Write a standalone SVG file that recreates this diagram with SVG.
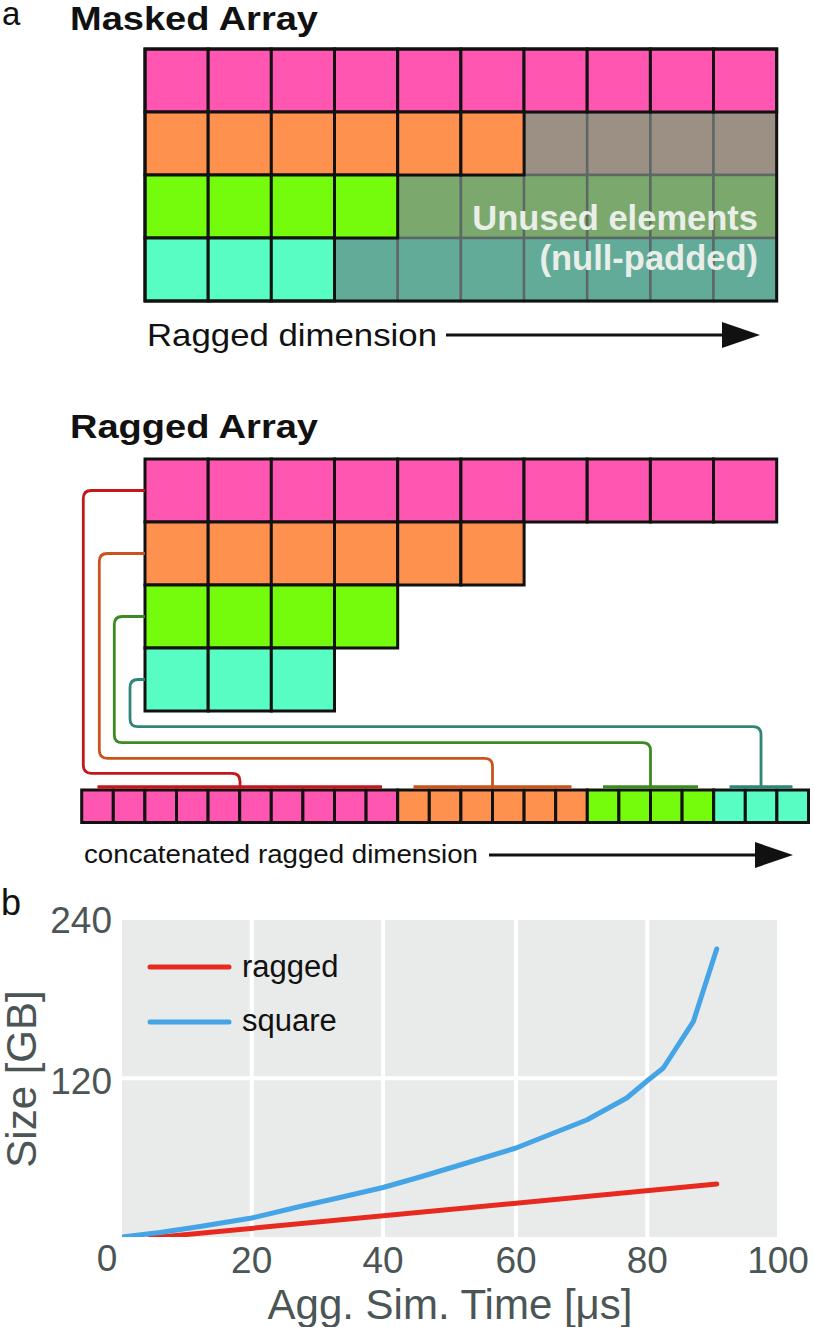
<svg xmlns="http://www.w3.org/2000/svg" width="814" height="1327" viewBox="0 0 814 1327">
<style>
.lbl{font-family:"Liberation Sans",Arial,sans-serif;fill:#111}
.title{font-family:"Liberation Sans",Arial,sans-serif;font-weight:bold;font-size:34px;fill:#111}
.pk{fill:#ff56b1;stroke:#111;stroke-width:3}
.or{fill:#ff914f;stroke:#111;stroke-width:3}
.gr{fill:#74fc0c;stroke:#111;stroke-width:3}
.te{fill:#58fdc4;stroke:#111;stroke-width:3}
.uo{fill:#9c8f84;stroke:#5d6866;stroke-width:2.5}
.ug{fill:#7ba86c;stroke:#5d6866;stroke-width:2.5}
.ut{fill:#63ab99;stroke:#5d6866;stroke-width:2.5}
.conn{fill:none;stroke-width:2.8;stroke-linejoin:round}
.brk{stroke-width:3.5}
.tick{font-family:"Liberation Sans",Arial,sans-serif;font-size:37px;fill:#4b5555}
.axl{font-family:"Liberation Sans",Arial,sans-serif;font-size:42px;fill:#4b5555}
.grid{stroke:#ffffff;stroke-width:4}
</style>
<defs>
<marker id="ah" markerUnits="userSpaceOnUse" markerWidth="38" markerHeight="26" refX="0" refY="13" orient="auto" viewBox="0 0 38 26">
<path d="M0,0 L38,13 L0,26 Z" fill="#111"/>
</marker>
<clipPath id="plotclip"><rect x="122" y="920" width="655" height="317"/></clipPath>
</defs>

<g id="panel-a-label"><text class="lbl" x="2" y="25" font-size="33">a</text></g>
<g id="masked-title"><text class="title" x="70" y="30" textLength="248" lengthAdjust="spacingAndGlyphs">Masked Array</text></g>

<g id="masked-array">
<rect class="uo" x="524" y="112" width="63.2" height="63"/>
<rect class="uo" x="587.2" y="112" width="63.2" height="63"/>
<rect class="uo" x="650.4" y="112" width="63.2" height="63"/>
<rect class="uo" x="713.5" y="112" width="63.2" height="63"/>
<rect class="ug" x="397.7" y="175" width="63.2" height="63"/>
<rect class="ug" x="460.9" y="175" width="63.2" height="63"/>
<rect class="ug" x="524" y="175" width="63.2" height="63"/>
<rect class="ug" x="587.2" y="175" width="63.2" height="63"/>
<rect class="ug" x="650.4" y="175" width="63.2" height="63"/>
<rect class="ug" x="713.5" y="175" width="63.2" height="63"/>
<rect class="ut" x="334.5" y="238" width="63.2" height="63"/>
<rect class="ut" x="397.7" y="238" width="63.2" height="63"/>
<rect class="ut" x="460.9" y="238" width="63.2" height="63"/>
<rect class="ut" x="524" y="238" width="63.2" height="63"/>
<rect class="ut" x="587.2" y="238" width="63.2" height="63"/>
<rect class="ut" x="650.4" y="238" width="63.2" height="63"/>
<rect class="ut" x="713.5" y="238" width="63.2" height="63"/>
<rect class="pk" x="145" y="49" width="63.2" height="63"/>
<rect class="pk" x="208.2" y="49" width="63.2" height="63"/>
<rect class="pk" x="271.3" y="49" width="63.2" height="63"/>
<rect class="pk" x="334.5" y="49" width="63.2" height="63"/>
<rect class="pk" x="397.7" y="49" width="63.2" height="63"/>
<rect class="pk" x="460.9" y="49" width="63.2" height="63"/>
<rect class="pk" x="524" y="49" width="63.2" height="63"/>
<rect class="pk" x="587.2" y="49" width="63.2" height="63"/>
<rect class="pk" x="650.4" y="49" width="63.2" height="63"/>
<rect class="pk" x="713.5" y="49" width="63.2" height="63"/>
<rect class="or" x="145" y="112" width="63.2" height="63"/>
<rect class="or" x="208.2" y="112" width="63.2" height="63"/>
<rect class="or" x="271.3" y="112" width="63.2" height="63"/>
<rect class="or" x="334.5" y="112" width="63.2" height="63"/>
<rect class="or" x="397.7" y="112" width="63.2" height="63"/>
<rect class="or" x="460.9" y="112" width="63.2" height="63"/>
<rect class="gr" x="145" y="175" width="63.2" height="63"/>
<rect class="gr" x="208.2" y="175" width="63.2" height="63"/>
<rect class="gr" x="271.3" y="175" width="63.2" height="63"/>
<rect class="gr" x="334.5" y="175" width="63.2" height="63"/>
<rect class="te" x="145" y="238" width="63.2" height="63"/>
<rect class="te" x="208.2" y="238" width="63.2" height="63"/>
<rect class="te" x="271.3" y="238" width="63.2" height="63"/>
<rect x="145" y="49" width="631.7" height="252" fill="none" stroke="#111" stroke-width="3"/>
<text x="758" y="230" text-anchor="end" font-family="Liberation Sans, Arial, sans-serif" font-weight="bold" font-size="34.5" fill="#e9eee9">Unused elements</text>
<text x="758" y="270" text-anchor="end" font-family="Liberation Sans, Arial, sans-serif" font-weight="bold" font-size="34.5" fill="#e9eee9">(null-padded)</text>
</g>

<g id="ragged-dimension-label">
<text class="lbl" x="147" y="346" font-size="32" textLength="290" lengthAdjust="spacingAndGlyphs">Ragged dimension</text>
</g>

<g id="ragged-title"><text class="title" x="70" y="438" textLength="248" lengthAdjust="spacingAndGlyphs">Ragged Array</text></g>

<g id="ragged-array">
<rect class="pk" x="145" y="459" width="63.2" height="63"/>
<rect class="pk" x="208.2" y="459" width="63.2" height="63"/>
<rect class="pk" x="271.3" y="459" width="63.2" height="63"/>
<rect class="pk" x="334.5" y="459" width="63.2" height="63"/>
<rect class="pk" x="397.7" y="459" width="63.2" height="63"/>
<rect class="pk" x="460.9" y="459" width="63.2" height="63"/>
<rect class="pk" x="524" y="459" width="63.2" height="63"/>
<rect class="pk" x="587.2" y="459" width="63.2" height="63"/>
<rect class="pk" x="650.4" y="459" width="63.2" height="63"/>
<rect class="pk" x="713.5" y="459" width="63.2" height="63"/>
<rect class="or" x="145" y="522" width="63.2" height="63"/>
<rect class="or" x="208.2" y="522" width="63.2" height="63"/>
<rect class="or" x="271.3" y="522" width="63.2" height="63"/>
<rect class="or" x="334.5" y="522" width="63.2" height="63"/>
<rect class="or" x="397.7" y="522" width="63.2" height="63"/>
<rect class="or" x="460.9" y="522" width="63.2" height="63"/>
<rect class="gr" x="145" y="585" width="63.2" height="63"/>
<rect class="gr" x="208.2" y="585" width="63.2" height="63"/>
<rect class="gr" x="271.3" y="585" width="63.2" height="63"/>
<rect class="gr" x="334.5" y="585" width="63.2" height="63"/>
<rect class="te" x="145" y="648" width="63.2" height="63"/>
<rect class="te" x="208.2" y="648" width="63.2" height="63"/>
<rect class="te" x="271.3" y="648" width="63.2" height="63"/>
</g>

<g id="concatenated-array">
<rect class="pk" x="81.7" y="790" width="31.6" height="32.5"/>
<rect class="pk" x="113.3" y="790" width="31.6" height="32.5"/>
<rect class="pk" x="144.9" y="790" width="31.6" height="32.5"/>
<rect class="pk" x="176.5" y="790" width="31.6" height="32.5"/>
<rect class="pk" x="208.1" y="790" width="31.6" height="32.5"/>
<rect class="pk" x="239.7" y="790" width="31.6" height="32.5"/>
<rect class="pk" x="271.3" y="790" width="31.6" height="32.5"/>
<rect class="pk" x="302.9" y="790" width="31.6" height="32.5"/>
<rect class="pk" x="334.5" y="790" width="31.6" height="32.5"/>
<rect class="pk" x="366.1" y="790" width="31.6" height="32.5"/>
<rect class="or" x="397.7" y="790" width="31.6" height="32.5"/>
<rect class="or" x="429.3" y="790" width="31.6" height="32.5"/>
<rect class="or" x="460.9" y="790" width="31.6" height="32.5"/>
<rect class="or" x="492.5" y="790" width="31.6" height="32.5"/>
<rect class="or" x="524.1" y="790" width="31.6" height="32.5"/>
<rect class="or" x="555.7" y="790" width="31.6" height="32.5"/>
<rect class="gr" x="587.3" y="790" width="31.6" height="32.5"/>
<rect class="gr" x="618.9" y="790" width="31.6" height="32.5"/>
<rect class="gr" x="650.5" y="790" width="31.6" height="32.5"/>
<rect class="gr" x="682.1" y="790" width="31.6" height="32.5"/>
<rect class="te" x="713.7" y="790" width="31.6" height="32.5"/>
<rect class="te" x="745.3" y="790" width="31.6" height="32.5"/>
<rect class="te" x="776.9" y="790" width="31.6" height="32.5"/>
</g>

<g id="connectors">
<path class="conn" stroke="#c3161d" d="M145,490.5 H91.3 Q83.3,490.5 83.3,498.5 V765.3 Q83.3,773.3 91.3,773.3 H232 Q240,773.3 240,781.3 V787"/>
<path class="conn" stroke="#c9541c" d="M145,553.5 H107.3 Q99.3,553.5 99.3,561.5 V750.3 Q99.3,758.3 107.3,758.3 H484.5 Q492.5,758.3 492.5,766.3 V787"/>
<path class="conn" stroke="#3c8a22" d="M145,616.5 H122.3 Q114.3,616.5 114.3,624.5 V734.7 Q114.3,742.7 122.3,742.7 H642.5 Q650.5,742.7 650.5,750.7 V787"/>
<path class="conn" stroke="#2f8677" d="M145,679.5 H138 Q130,679.5 130,687.5 V718.7 Q130,726.7 138,726.7 H753 Q761,726.7 761,734.7 V787"/>
<line class="brk" x1="97.5" y1="787" x2="382" y2="787" stroke="#c3161d"/>
<line class="brk" x1="413.5" y1="787" x2="571.5" y2="787" stroke="#c9541c"/>
<line class="brk" x1="603" y1="787" x2="698" y2="787" stroke="#3c8a22"/>
<line class="brk" x1="729.5" y1="787" x2="792.5" y2="787" stroke="#2f8677"/>
<line x1="446" y1="335" x2="722" y2="335" stroke="#111" stroke-width="3" marker-end="url(#ah)"/>
<line x1="489" y1="855" x2="755" y2="855" stroke="#111" stroke-width="3" marker-end="url(#ah)"/>
</g>

<g id="concatenated-label">
<text class="lbl" x="84" y="863" font-size="26" textLength="394" lengthAdjust="spacingAndGlyphs">concatenated ragged dimension</text>
</g>

<g id="panel-b-label"><text class="lbl" x="1" y="915" font-size="36">b</text></g>

<g id="chart">
<rect x="122" y="920" width="655" height="317" fill="#e9ebea"/>
<line class="grid" x1="251.7" y1="920" x2="251.7" y2="1237"/>
<line class="grid" x1="383" y1="920" x2="383" y2="1237"/>
<line class="grid" x1="516" y1="920" x2="516" y2="1237"/>
<line class="grid" x1="647.3" y1="920" x2="647.3" y2="1237"/>
<line class="grid" x1="122" y1="1078.3" x2="777" y2="1078.3"/>
<g clip-path="url(#plotclip)">
<polyline fill="none" stroke="#e8291f" stroke-width="5" stroke-linecap="round" points="150,1238 716.7,1184"/>
<polyline fill="none" stroke="#45a4e6" stroke-width="5" stroke-linecap="round" stroke-linejoin="round" points="122,1237 160,1232.5 200,1226.5 251.7,1218 300,1206.5 340,1197.5 383,1187.5 420,1177 460,1165 516,1148 550,1134.5 586.7,1120 626.7,1098 647,1081 663.3,1068 693.3,1021.7 716.7,949"/>
</g>
<line x1="150" y1="967" x2="229" y2="967" stroke="#e8291f" stroke-width="5" stroke-linecap="round"/>
<line x1="150" y1="1022" x2="229" y2="1022" stroke="#45a4e6" stroke-width="5" stroke-linecap="round"/>
<text class="lbl" x="242" y="977" font-size="31" fill="#222">ragged</text>
<text class="lbl" x="242" y="1031" font-size="31" fill="#222">square</text>
<text class="tick" x="112" y="933" text-anchor="end">240</text>
<text class="tick" x="112" y="1094" text-anchor="end">120</text>
<text class="tick" x="107" y="1271" text-anchor="middle">0</text>
<text class="tick" x="251.7" y="1273" text-anchor="middle">20</text>
<text class="tick" x="383" y="1273" text-anchor="middle">40</text>
<text class="tick" x="516" y="1273" text-anchor="middle">60</text>
<text class="tick" x="647.3" y="1273" text-anchor="middle">80</text>
<text class="tick" x="778" y="1273" text-anchor="middle">100</text>
<text class="axl" x="450" y="1319" text-anchor="middle">Agg. Sim. Time [μs]</text>
<text class="axl" transform="translate(36,1079) rotate(-90)" text-anchor="middle">Size [GB]</text>
</g>
</svg>
